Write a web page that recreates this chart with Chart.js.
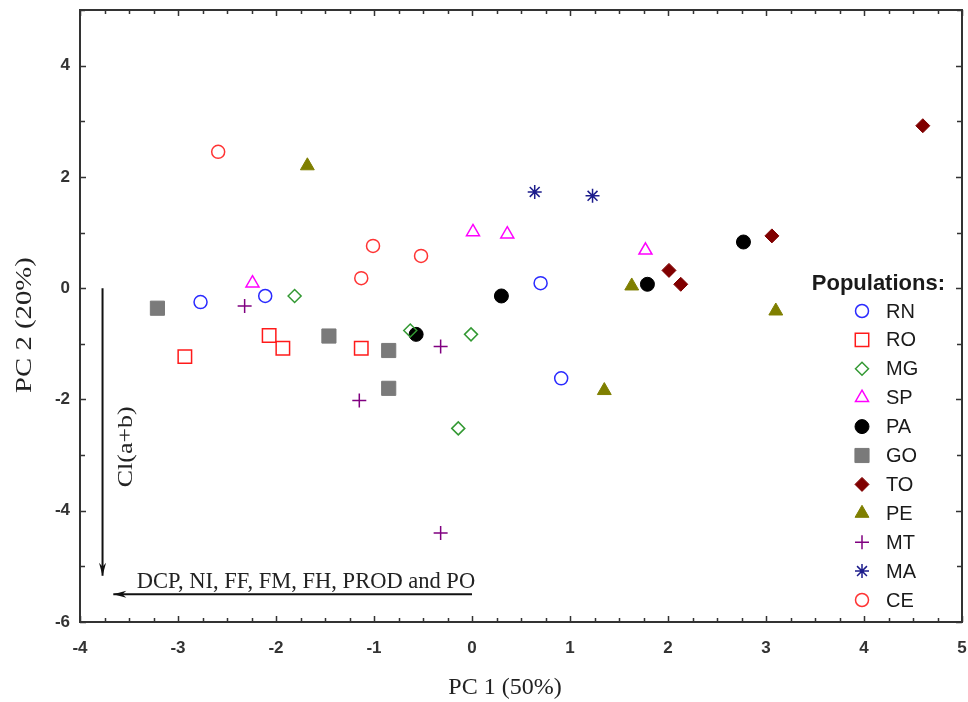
<!DOCTYPE html>
<html>
<head>
<meta charset="utf-8">
<title>PCA populations</title>
<script src="https://cdn.jsdelivr.net/npm/chart.js@4.4.1/dist/chart.umd.min.js"></script>
<style>
  html, body { margin: 0; padding: 0; background: #fff; }
  canvas { display: block; }
</style>
</head>
<body>
<canvas id="pca" width="968" height="702"></canvas>
<script>
// population scores [PC1, PC2]
const RN = [[-2.77, -0.25], [-2.11, -0.14], [0.70, 0.09], [0.91, -1.62]];
const RO = [[-2.93, -1.23], [-2.07, -0.85], [-1.93, -1.08], [-1.13, -1.08]];
const MG = [[-1.81, -0.14], [-0.63, -0.76], [-0.01, -0.83], [-0.14, -2.52]];
const SP = [[-2.24, 0.09], [0.01, 1.01], [0.36, 0.97], [1.77, 0.68]];
const PA = [[-0.57, -0.83], [0.30, -0.14], [1.79, 0.07], [2.77, 0.83]];
const GO = [[-3.21, -0.36], [-1.46, -0.86], [-0.85, -1.12], [-0.85, -1.80]];
const TO = [[4.60, 2.92], [3.06, 0.94], [2.01, 0.32], [2.13, 0.07]];
const PE = [[-1.68, 2.20], [1.63, 0.04], [3.10, -0.41], [1.35, -1.84]];
const MT = [[-2.32, -0.32], [-0.32, -1.05], [-1.15, -2.02], [-0.32, -4.40]];
const MA = [[0.64, 1.73], [1.23, 1.66]];
const CE = [[-2.59, 2.45], [-1.01, 0.76], [-1.13, 0.18], [-0.52, 0.58]];

const populations = ['RN', 'RO', 'MG', 'SP', 'PA', 'GO', 'TO', 'PE', 'MT', 'MA', 'CE'];
const scores = [RN, RO, MG, SP, PA, GO, TO, PE, MT, MA, CE];

const xTicks = [-4, -3, -2, -1, 0, 1, 2, 3, 4, 5];
const yTicks = [-6, -4, -2, 0, 2, 4];
const xTitle = 'PC 1 (50%)';
const yTitle = 'PC 2 (20%)';

// loading arrows (data coords): Cl(a+b) down, traits to the left
const arrowCl = [[-3.77, 0], [-3.77, -5.17]];
const arrowTraits = [[0.0, -5.5], [-3.66, -5.5]];
const labelCl = { text: 'Cl(a+b)', x: -3.53, y: -2.85 };
const labelTraits = { text: 'DCP, NI, FF, FM, FH, PROD and PO', x: -3.42, y: -5.39 };

const styles = [
  { pointStyle: 'circle',   color: '#2a2aff', fill: false, r: 6.5 },
  { pointStyle: 'rect',     color: '#ff1a1a', fill: false, r: 9.5 },
  { pointStyle: 'rectRot',  color: '#339933', fill: false, r: 6.5 },
  { pointStyle: 'triangle', color: '#ff00ff', fill: false, r: 7.5 },
  { pointStyle: 'circle',   color: '#000000', fill: true,  r: 7 },
  { pointStyle: 'rect',     color: '#7a7a7a', fill: true,  r: 10 },
  { pointStyle: 'rectRot',  color: '#800000', fill: true,  r: 7 },
  { pointStyle: 'triangle', color: '#7f7f00', fill: true,  r: 8 },
  { pointStyle: 'cross',    color: '#800080', fill: false, r: 7 },
  { pointStyle: 'star',     color: '#1c1c8c', fill: false, r: 7 },
  { pointStyle: 'circle',   color: '#ff3333', fill: false, r: 6.5 }
];

const sans = "'Liberation Sans', Arial, sans-serif";
const serif = "'Liberation Serif', 'Times New Roman', serif";

function drawArrow(ctx, x1, y1, x2, y2) {
  ctx.beginPath();
  ctx.moveTo(x1, y1);
  ctx.lineTo(x2, y2);
  ctx.stroke();
  const a = Math.atan2(y2 - y1, x2 - x1);
  const L = 13, W = 3.5;
  const c = Math.cos(a), s = Math.sin(a);
  ctx.beginPath();
  ctx.moveTo(x2, y2);
  ctx.lineTo(x2 - L * c + W * s, y2 - L * s - W * c);
  ctx.lineTo(x2 - L * 0.7 * c, y2 - L * 0.7 * s);
  ctx.lineTo(x2 - L * c - W * s, y2 - L * s + W * c);
  ctx.closePath();
  ctx.fill();
}

// vertical text, a bit stretched along its length like the original
function drawVertical(ctx, text, cx, cy, size, stretch) {
  ctx.save();
  ctx.translate(cx, cy);
  ctx.rotate(-Math.PI / 2);
  ctx.scale(stretch, 1);
  ctx.font = size + 'px ' + serif;
  ctx.textAlign = 'center';
  ctx.textBaseline = 'middle';
  ctx.fillText(text, 0, 0);
  ctx.restore();
}

const decorPlugin = {
  id: 'decor',
  afterDraw(chart) {
    const { ctx, chartArea: a, scales: { x, y } } = chart;
    ctx.save();

    // frame + inward ticks
    ctx.strokeStyle = '#333';
    ctx.lineWidth = 2;
    ctx.strokeRect(a.left, a.top, a.right - a.left, a.bottom - a.top);
    ctx.lineWidth = 1.5;
    ctx.beginPath();
    for (let v = x.min; v <= x.max + 1e-9; v += 0.25) {
      const px = Math.round(x.getPixelForValue(v)) + 0.5;
      const len = Math.abs(v - Math.round(v)) < 1e-9 ? 6 : 4;
      ctx.moveTo(px, a.bottom); ctx.lineTo(px, a.bottom - len);
      ctx.moveTo(px, a.top); ctx.lineTo(px, a.top + len);
    }
    for (let v = y.min; v <= y.max; v += 1) {
      const py = Math.round(y.getPixelForValue(v)) + 0.5;
      const len = v % 2 === 0 ? 6 : 5;
      ctx.moveTo(a.left, py); ctx.lineTo(a.left + len, py);
      ctx.moveTo(a.right, py); ctx.lineTo(a.right - len, py);
    }
    ctx.stroke();

    // axis titles
    ctx.fillStyle = '#222';
    ctx.font = '24px ' + serif;
    ctx.textAlign = 'center';
    ctx.textBaseline = 'middle';
    ctx.fillText(xTitle, 505, 688);
    drawVertical(ctx, yTitle, 25, 325, 23, 1.25);

    // arrows
    ctx.strokeStyle = '#111';
    ctx.fillStyle = '#111';
    ctx.lineWidth = 2;
    drawArrow(ctx, x.getPixelForValue(arrowCl[0][0]), y.getPixelForValue(arrowCl[0][1]),
      x.getPixelForValue(arrowCl[1][0]), y.getPixelForValue(arrowCl[1][1]));
    drawArrow(ctx, x.getPixelForValue(arrowTraits[0][0]), y.getPixelForValue(arrowTraits[0][1]),
      x.getPixelForValue(arrowTraits[1][0]), y.getPixelForValue(arrowTraits[1][1]));

    ctx.fillStyle = '#222';
    ctx.font = '22.5px ' + serif;
    ctx.textAlign = 'left';
    ctx.textBaseline = 'alphabetic';
    ctx.fillText(labelTraits.text, x.getPixelForValue(labelTraits.x), y.getPixelForValue(labelTraits.y));
    drawVertical(ctx, labelCl.text, x.getPixelForValue(labelCl.x), y.getPixelForValue(labelCl.y), 22, 1.18);

    // legend
    const lx = a.right - 100, ly = a.top + 301, step = 28.9;
    ctx.fillStyle = '#1a1a1a';
    ctx.font = 'bold 22px ' + sans;
    ctx.textAlign = 'right';
    ctx.textBaseline = 'middle';
    ctx.fillText('Populations:', a.right - 17, a.top + 274);
    ctx.font = '20px ' + sans;
    ctx.textAlign = 'left';
    populations.forEach((name, i) => {
      const st = styles[i];
      const cy = ly + i * step;
      ctx.strokeStyle = st.color;
      ctx.fillStyle = st.fill ? st.color : 'rgba(0,0,0,0)';
      ctx.lineWidth = st.fill ? 1 : 1.5;
      Chart.helpers.drawPoint(ctx, { pointStyle: st.pointStyle, radius: st.r, rotation: 0, borderWidth: ctx.lineWidth }, lx, cy);
      ctx.fillStyle = '#1a1a1a';
      ctx.fillText(name, lx + 24, cy + 1);
    });

    ctx.restore();
  }
};

const datasets = populations.map((name, i) => ({
  label: name,
  data: scores[i].map(p => ({ x: p[0], y: p[1] })),
  pointStyle: styles[i].pointStyle,
  pointRadius: styles[i].r,
  pointHoverRadius: styles[i].r,
  borderColor: styles[i].color,
  backgroundColor: styles[i].fill ? styles[i].color : 'rgba(0,0,0,0)',
  pointBorderWidth: styles[i].fill ? 1 : 1.5
}));

new Chart(document.getElementById('pca'), {
  type: 'scatter',
  data: { datasets },
  options: {
    responsive: false,
    animation: false,
    layout: { autoPadding: false, padding: { top: 10, right: 6, left: 0, bottom: 0 } },
    plugins: { legend: { display: false }, tooltip: { enabled: false } },
    scales: {
      x: {
        min: -4, max: 5,
        afterFit: s => { s.height = 80; s.paddingLeft = 0; s.paddingRight = 0; },
        afterBuildTicks: s => { s.ticks = xTicks.map(v => ({ value: v })); },
        grid: { display: false, drawTicks: false },
        border: { display: false },
        ticks: { color: '#333', padding: 16, font: { family: sans, size: 17, weight: 'bold' } }
      },
      y: {
        min: -6, max: 5,
        afterFit: s => { s.width = 80; s.paddingTop = 0; s.paddingBottom = 0; },
        afterBuildTicks: s => { s.ticks = yTicks.map(v => ({ value: v })); },
        grid: { display: false, drawTicks: false },
        border: { display: false },
        ticks: { color: '#333', padding: 10, font: { family: sans, size: 17, weight: 'bold' } }
      }
    }
  },
  plugins: [decorPlugin]
});
</script>
</body>
</html>
